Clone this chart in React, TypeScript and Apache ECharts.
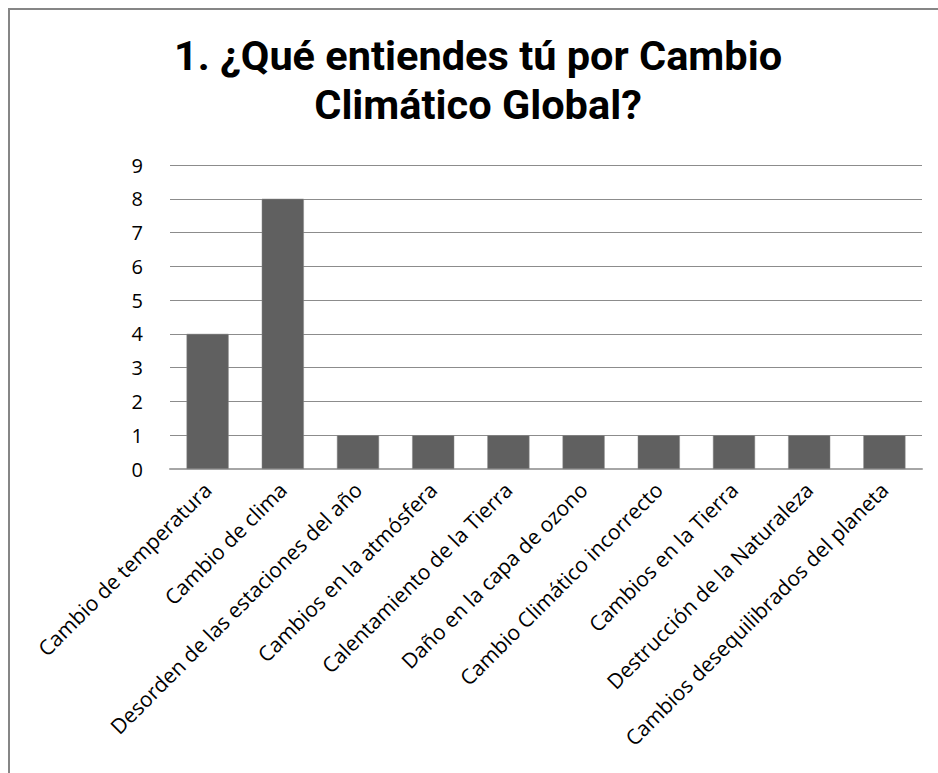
import React, { useEffect, useRef } from "react";
import * as echarts from "echarts";

const categories = [
  "Cambio de temperatura",
  "Cambio de clima",
  "Desorden de las estaciones del año",
  "Cambios en la atmósfera",
  "Calentamiento de la Tierra",
  "Daño en la capa de ozono",
  "Cambio Climático incorrecto",
  "Cambios en la Tierra",
  "Destrucción de la Naturaleza",
  "Cambios desequilibrados del planeta",
];
const values = [4, 8, 1, 1, 1, 1, 1, 1, 1, 1];
const titleLines = ["1. ¿Qué entiendes tú por Cambio", "Climático Global?"];

const FONT = "'Open Sans', 'Noto Sans', sans-serif";

export default function App() {
  const ref = useRef<HTMLDivElement>(null);
  useEffect(() => {
    if (!ref.current) return;
    const chart = echarts.init(ref.current, undefined, { renderer: "svg" });
    const titleStyle = {
      fontFamily: "Roboto, 'Open Sans', sans-serif",
      fontWeight: "bold",
      fontSize: 41.5,
      lineHeight: 47,
      color: "#000000",
    };
    chart.setOption({
      animation: false,
      backgroundColor: "#ffffff",
      title: titleLines.map((t, i) => ({
        text: t,
        left: 478,
        textAlign: "center",
        top: 32 + i * 49,
        padding: 0,
        textStyle: titleStyle,
      })),
      grid: { left: 170, right: 16, top: 165, bottom: 304, containLabel: false },
      xAxis: {
        type: "category",
        data: categories,
        axisLine: { lineStyle: { color: "#a6a6a6", width: 2 } },
        axisTick: { show: false },
        axisLabel: {
          rotate: 45,
          interval: 0,
          margin: 17,
          fontFamily: FONT,
          fontSize: 21,
          color: "#000000",
        },
      },
      yAxis: {
        type: "value",
        min: 0,
        max: 9,
        interval: 1,
        axisLine: { show: false },
        axisTick: { show: false },
        splitLine: { lineStyle: { color: "#8c8c8c", width: 1 } },
        axisLabel: {
          margin: 27,
          fontFamily: FONT,
          fontSize: 20,
          color: "#000000",
        },
      },
      series: [
        {
          type: "bar",
          data: values,
          barCategoryGap: "44%",
          itemStyle: { color: "#606060", borderColor: "#8a8a8a", borderWidth: 0.5 },
        },
      ],
    });
    return () => chart.dispose();
  }, []);
  return (
    <div style={{ position: "absolute", left: 0, top: 0, width: 938, height: 773 }}>
      <div ref={ref} style={{ position: "absolute", left: 0, top: 0, width: 938, height: 773 }} />
      <div
        style={{
          position: "absolute",
          left: 8,
          top: 8,
          width: 930,
          height: 765,
          borderLeft: "2px solid #868686",
          borderTop: "2px solid #868686",
          boxSizing: "border-box",
          pointerEvents: "none",
        }}
      />
    </div>
  );
}
